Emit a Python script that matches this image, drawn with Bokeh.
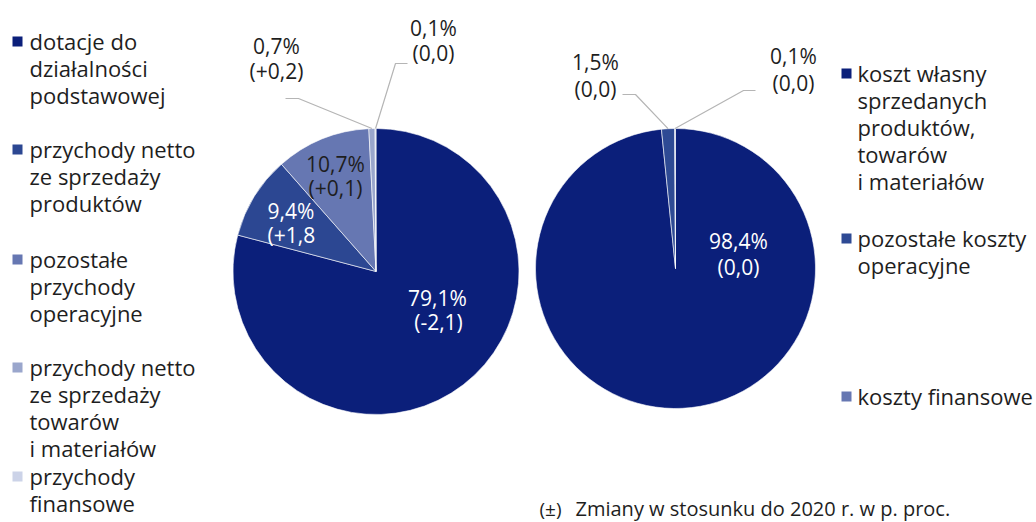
import math
from bokeh.plotting import figure
from bokeh.models import Range1d
from bokeh.core.properties import value
from bokeh.embed import file_html
from bokeh.resources import INLINE

# ---------------- data ----------------
left_categories = [
    ["dotacje do", "działalności", "podstawowej"],
    ["przychody netto", "ze sprzedaży", "produktów"],
    ["pozostałe", "przychody", "operacyjne"],
    ["przychody netto", "ze sprzedaży", "towarów", "i materiałów"],
    ["przychody", "finansowe"],
]
left_shares = [79.1, 9.4, 10.7, 0.7, 0.1]
left_changes = ["(-2,1)", "(+1,8", "(+0,1)", "(+0,2)", "(0,0)"]
left_pct_labels = ["79,1%", "9,4%", "10,7%", "0,7%", "0,1%"]

right_categories = [
    ["koszt własny", "sprzedanych", "produktów,", "towarów", "i materiałów"],
    ["pozostałe koszty", "operacyjne"],
    ["koszty finansowe"],
]
right_shares = [98.4, 1.5, 0.1]
right_changes = ["(0,0)", "(0,0)", "(0,0)"]
right_pct_labels = ["98,4%", "1,5%", "0,1%"]

footnote_symbol = "(±)"
footnote_text = "Zmiany w stosunku  do 2020 r. w p. proc."

# ---------------- style ----------------
left_colors = ["#0b1f7a", "#2c4792", "#6677b2", "#9aa6cc", "#ccd3e8"]
right_colors = ["#0b1f7a", "#2e4a94", "#6677b2"]
TXT = "#1e1e1e"
FONT = "Open Sans"
FS_LAB = "21px"
FS_LEG = "22px"

W, H = 1036, 522
p = figure(width=W, height=H, output_backend="svg", toolbar_location=None,
           x_range=Range1d(0, W), y_range=Range1d(0, H),
           x_axis_location=None, y_axis_location=None, min_border=0)
p.grid.visible = False
p.outline_line_color = None
p.background_fill_color = "white"
p.border_fill_color = "white"


def Y(sy):
    # convert a picture y (px from top) into data y
    return H - sy


def draw_pie(cx, cy, r, shares, colors):
    total = sum(shares)
    cum = 0.0
    starts, ends, mids = [], [], []
    for s in shares:
        a0 = math.pi / 2 - 2 * math.pi * cum / total
        cum += s
        a1 = math.pi / 2 - 2 * math.pi * cum / total
        starts.append(a1)
        ends.append(a0)
        mids.append((a0 + a1) / 2)
    p.wedge(x=[cx] * len(shares), y=[Y(cy)] * len(shares), radius=r,
            start_angle=starts, end_angle=ends, fill_color=colors,
            line_color="white", line_width=0.6)
    return mids


def txt(x, sy, s, color=TXT, size=FS_LAB, align="center"):
    p.text(x=[x], y=[Y(sy)], text=[s], text_font=value(FONT),
           text_font_size=size, text_color=color, text_align=align,
           text_baseline="middle")


# left pie
lcx, lcy, lr = 375.5, 271, 143
lmids = draw_pie(lcx, lcy, lr, left_shares, left_colors)
# right pie
rcx, rcy, rr = 675, 268, 140
rmids = draw_pie(rcx, rcy, rr, right_shares, right_colors)


def edge(cx, cy, r, ang):
    return cx + r * math.cos(ang), Y(cy) + r * math.sin(ang)


lc = "#b5b5b5"
ex, ey = edge(lcx, lcy, lr, lmids[3])
p.line([285, 298, ex], [Y(98), Y(98), ey], line_color=lc, line_width=1.2)
ex, ey = edge(lcx, lcy, lr, lmids[4])
p.line([407, 395, ex], [Y(63), Y(63), ey], line_color=lc, line_width=1.2)
ex, ey = edge(rcx, rcy, rr, rmids[1])
p.line([622, 635, ex], [Y(94), Y(94), ey], line_color=lc, line_width=1.2)
ex, ey = edge(rcx, rcy, rr, rmids[2])
p.line([755, 743, ex], [Y(90), Y(90), ey], line_color=lc, line_width=1.2)

# pie labels left
txt(437, 297, left_pct_labels[0], "white")
txt(438, 321, left_changes[0], "white")
txt(267, 210, left_pct_labels[1], "white", align="left")
txt(267, 234, left_changes[1], "white", align="left")
txt(335, 163, left_pct_labels[2])
txt(335, 187, left_changes[2])
txt(276, 45, left_pct_labels[3])
txt(276, 70, left_changes[3])
txt(433, 27, left_pct_labels[4])
txt(433, 52, left_changes[4])

# pie labels right
txt(738, 240, right_pct_labels[0], "white")
txt(738, 266, right_changes[0], "white")
txt(595, 61, right_pct_labels[1])
txt(595, 88, right_changes[1])
txt(793, 55, right_pct_labels[2])
txt(793, 82, right_changes[2])

# left legend
left_group_y = [40, 148, 258, 366, 475]
lh = 27
for i, lines in enumerate(left_categories):
    y0 = left_group_y[i]
    p.rect(x=[17], y=[Y(y0 + 1)], width=10, height=10,
           fill_color=left_colors[i], line_color=None)
    for j, ln in enumerate(lines):
        txt(29, y0 + j * lh, ln, size=FS_LEG, align="left")

# right legend
right_group_y = [72, 237, 395]
for i, lines in enumerate(right_categories):
    y0 = right_group_y[i]
    p.rect(x=[846], y=[Y(y0 + 1)], width=10, height=10,
           fill_color=right_colors[i], line_color=None)
    for j, ln in enumerate(lines):
        txt(857, y0 + j * lh, ln, size=FS_LEG, align="left")

# footnote
txt(539, 508, footnote_symbol, size="19px", align="left")
txt(575, 508, footnote_text, size="20px", align="left")

open("out.html", "w").write(file_html(p, INLINE))
